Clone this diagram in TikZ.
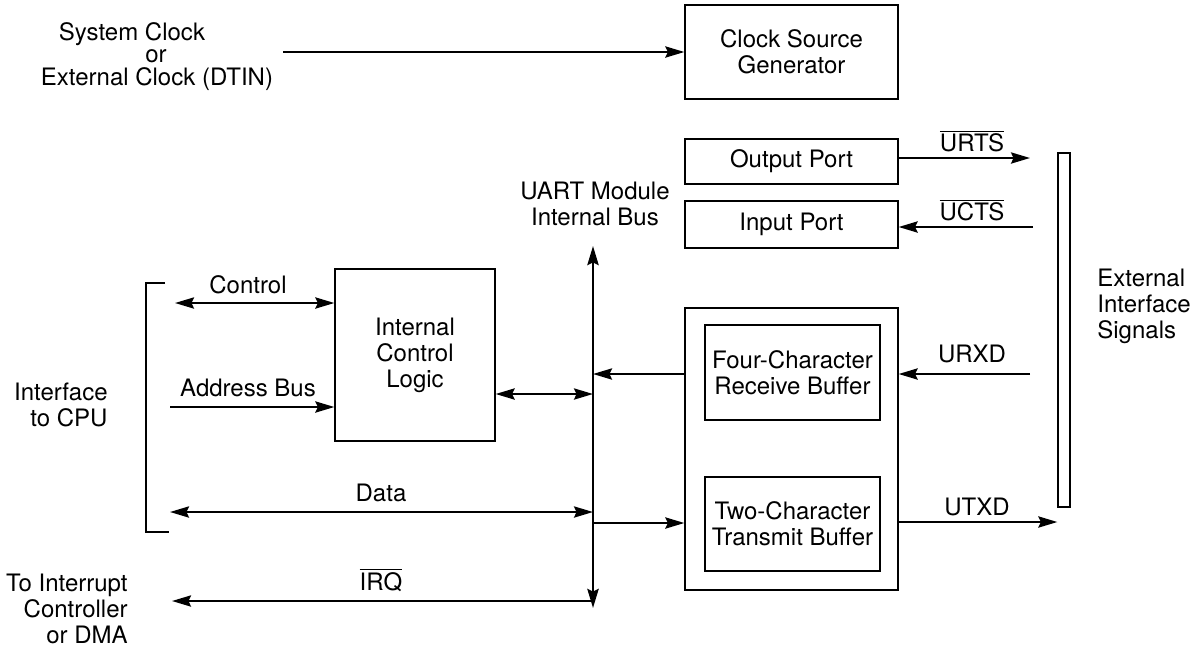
\documentclass[tikz,border=0pt]{standalone}
\usepackage{fontspec}
\setmainfont{TeX Gyre Heros}
\usetikzlibrary{arrows.meta}
\tikzset{
  tip/.tip={Stealth[length=9.5pt,width=5.6pt,inset=1.3pt]},
  box/.style={draw, line width=0.65pt, align=center, inner sep=0pt},
  arr/.style={line width=1.1pt, -tip},
  dbl/.style={line width=1.1pt, tip-tip},
  lbl/.style={inner sep=0pt, align=center},
}
\newcommand{\ovl}[1]{\(\overline{\mbox{#1}}\)}
\begin{document}
\begin{tikzpicture}[x=0.5pt,y=-0.5pt,font=\fontsize{12}{13}\selectfont]
\useasboundingbox (0,0) rectangle (1190,650);
% boxes
\node[box, minimum width=106.5pt, minimum height=47pt] (clk) at (791.5,52) {Clock Source\\Generator};
\node[box, minimum width=106.5pt, minimum height=22.5pt] (outp) at (791.5,161.5) {Output Port};
\node[box, minimum width=106.5pt, minimum height=23.5pt] (inp) at (791.5,224.5) {Input Port};
\node[box, minimum width=80pt, minimum height=86pt] (icl) at (415,355) {Internal\\Control\\Logic};
\node[box, minimum width=106.5pt, minimum height=141pt] (outer) at (791.5,449) {};
\node[box, minimum width=87.5pt, minimum height=47.5pt] (rx) at (792.5,372.5) {Four-Character\\Receive Buffer};
\node[box, minimum width=87.5pt, minimum height=47pt] (tx) at (792.5,524) {Two-Character\\Transmit Buffer};
\node[box, minimum width=6pt, minimum height=177pt] (bar) at (1064,330) {};
% text labels
\node[lbl] (sys1) at (132,34) {System Clock};
\node[lbl] (sys2) at (156,56) {or};
\node[lbl] (sys3) at (157,79) {External Clock (DTIN)};
\node[lbl] (uart) at (595,204) {UART Module\\Internal Bus};
\node[lbl, align=left, anchor=west] (ext) at (1097,306) {External\\Interface\\Signals};
\node[lbl, align=right, anchor=east] (cpu) at (108,405) {Interface\\to CPU};
\node[lbl, align=right, anchor=east] (irqt) at (128,609) {To Interrupt\\Controller\\or DMA};
\node[lbl] (lctl) at (248,285) {Control};
\node[lbl] (ladr) at (248,388) {Address Bus};
\node[lbl] (ldata) at (381,493) {Data};
\node[lbl] (lirq) at (381,580) {\ovl{IRQ}};
\node[lbl] (lurts) at (972,141) {\ovl{URTS}};
\node[lbl] (lucts) at (972,210) {\ovl{UCTS}};
\node[lbl] (lurxd) at (972,354) {URXD};
\node[lbl] (lutxd) at (977,507) {UTXD};
% coordinates
\coordinate (clkin) at (283,52);
\coordinate (urtsend) at (1030,158);
\coordinate (uctsin) at (1033,227);
\coordinate (urxdin) at (1030,374);
\coordinate (utx) at (990,522);
\coordinate (bustop) at (593,246);
\coordinate (busbot) at (593,608);
\coordinate (b1) at (593,374);
\coordinate (b2) at (593,394);
\coordinate (b3) at (593,523);
\coordinate (b4) at (593,512);
\coordinate (b5) at (593,601);
\coordinate (dl) at (170,512);
\coordinate (irql) at (172,601);
\coordinate (ctl) at (175,303);
\coordinate (adr) at (170,407);
% connectors
\draw[arr] (clkin) -- (clk.west);
\draw[arr] (outp.east |- urtsend) -- (urtsend);
\draw[arr] (uctsin) -- (uctsin -| inp.east);
\draw[arr] (urxdin) -- (urxdin -| outer.east);
\draw[arr] (utx -| outer.east) -- (utx -| bar.west);
\draw[line width=1.3pt, tip-tip] (busbot) -- (bustop);
\draw[arr] (b1 -| outer.west) -- (b1);
\draw[dbl] (b2 -| icl.east) -- (b2);
\draw[arr] (b3) -- (b3 -| outer.west);
\draw[dbl] (dl) -- (b4);
\draw[arr] (b5) -- (irql);
\draw[dbl] (ctl) -- (ctl -| icl.west);
\draw[arr] (adr) -- (adr -| icl.west);
% bracket
\draw[line width=0.65pt] (165,283) -- (146,283) -- (146,532) -- (169,532);
\end{tikzpicture}
\end{document}
